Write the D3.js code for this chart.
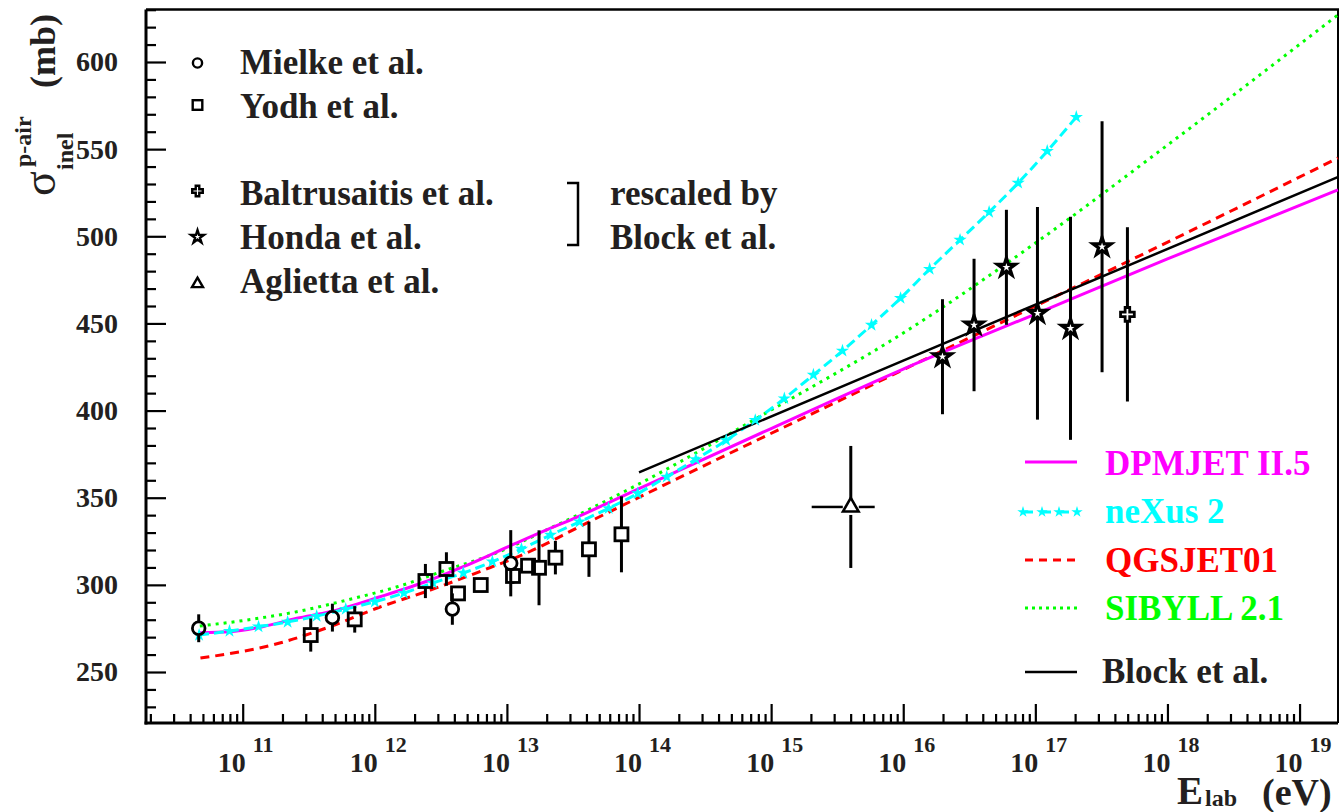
<!DOCTYPE html>
<html><head><meta charset="utf-8">
<script src="https://cdn.jsdelivr.net/npm/d3@7"></script>
<style>
body{margin:0;background:#fff}
svg text{font-family:"Liberation Serif","Times New Roman",serif;font-weight:bold;fill:#231f20}
</style>
</head><body>
<svg id="c" width="1341" height="812"></svg>
<script>
// ---------- DATA (log10 of E_lab in eV, sigma in mb) ----------
const xTickExponents = [11,12,13,14,15,16,17,18,19];
const yTickValues = [250,300,350,400,450,500,550,600];

const dpmjetLogE  = [10.675,10.90,11.15,11.41,11.66,12.04,12.42,12.67,13.04,13.30,13.48,14.0,15.0,16.0,17.0,18.0,19.29];
const dpmjetSigma = [272.5,273.1,276.0,280.8,284.6,293.2,302.8,310.4,322.9,331.5,337.2,355.2,389.7,423.8,455.4,487.0,526.6];

const nexusLogE  = [10.67,10.90,11.12,11.34,11.56,11.78,12.00,12.22,12.44,12.67,12.89,13.11,13.33,13.55,13.77,13.99,14.21,14.43,14.66,14.88,15.10,15.32,15.54,15.76,15.98,16.20,16.43,16.65,16.87,17.09,17.31];
const nexusSigma = [271.2,273.5,276.0,278.7,282.1,286.1,290.3,295.3,301.1,306.8,313.3,320.6,328.6,336.2,343.9,352.4,362.0,372.0,382.9,394.5,406.9,420.5,434.3,449.1,464.5,481.2,497.9,513.9,530.6,548.9,568.4];

const qgsjetLogE  = [10.68,11.28,11.66,12.04,12.42,12.79,13.17,13.55,15.97,18.24,19.29];
const qgsjetSigma = [258.0,266.6,276.0,287.3,297.0,307.5,319.0,333.4,422.3,505.5,544.9];

const sibyllLogE  = [10.675,11.03,11.41,11.79,12.17,12.54,12.92,13.30,14.0,15.0,16.0,17.0,18.0,19.29];
const sibyllSigma = [276.4,279.8,284.6,291.3,298.9,308.5,318.3,331.5,357.9,400.3,444.5,496.1,552.3,627.0];

const blockLogE  = [14.0,16.0,19.29];
const blockSigma = [364.5,428.7,534.0];

const mielkeLogE  = [10.667,11.679,12.587,13.029];
const mielkeSigma = [275.1,281.2,286.1,312.4];
const mielkeErr   = [8,8,9,19];

const yodhLogE  = [11.515,11.848,12.383,12.542,12.630,12.802,13.046,13.160,13.243,13.367,13.621,13.867];
const yodhSigma = [271.2,280.2,302.2,309.1,295.1,299.9,305.1,311.0,309.8,315.6,320.4,329.0];
const yodhErr   = [9.5,7.6,9.8,9.6,4,4,4.5,3,21.5,9.6,15.8,21.8];

const hondaLogE  = [16.297,16.536,16.781,17.016,17.266,17.505];
const hondaSigma = [430.9,449.1,482.2,455.8,447.2,494.0];
const hondaErr   = [33,38,33,61,64,72];

const baltLogE  = [17.697];
const baltSigma = [455.2];
const baltErr   = [50];

const agliettaLogE   = [15.603];
const agliettaLogELo = [15.307];
const agliettaLogEHi = [15.784];
const agliettaSigma  = [344.7];
const agliettaErr    = [35];

const leftLegend  = ["Mielke et al.","Yodh et al.","Baltrusaitis et al.","Honda et al.","Aglietta et al."];
const rightLegend = ["DPMJET II.5","neXus 2","QGSJET01","SIBYLL 2.1","Block et al."];
const noteLines   = ["rescaled by","Block et al."];

// ---------- LAYOUT ----------
const L=146,R=1338,T=9.5,B=723;
const x=d3.scaleLog().domain([Math.pow(10,10.268),Math.pow(10,19.291)]).range([L,R]);
const y=d3.scaleLinear().domain([220.74,630.12]).range([B,T]);
const X=le=>x(Math.pow(10,le));
const svg=d3.select("#c");
const TXT="#231f20";

// ---------- AXES ----------
const minorX=[];
for(let n=10;n<=19;n++) for(let k=2;k<=9;k++){const v=k*Math.pow(10,n); if(v>=x.domain()[0]&&v<=x.domain()[1]) minorX.push(v);}
const majorX=xTickExponents.map(k=>Math.pow(10,k));
function styleAxis(g){g.select(".domain").remove();g.selectAll(".tick line").attr("stroke","#000").attr("stroke-width",2.2);}
svg.append("g").attr("transform",`translate(0,${B})`).call(d3.axisBottom(x).tickValues(minorX).tickSize(-9).tickFormat("")).call(styleAxis);
svg.append("g").attr("transform",`translate(0,${B})`).call(d3.axisBottom(x).tickValues(majorX).tickSize(-19).tickFormat("")).call(styleAxis);

const minorY=d3.range(230,631,10).filter(v=>v%50!==0);
svg.append("g").attr("transform",`translate(${L},0)`).call(d3.axisLeft(y).tickValues(minorY).tickSize(-10).tickFormat("")).call(styleAxis);
const gy=svg.append("g").attr("transform",`translate(${L},0)`).call(d3.axisLeft(y).tickValues(yTickValues).tickSize(-20).tickPadding(28).tickFormat(d3.format("d"))).call(styleAxis);
gy.attr("font-size",28).attr("font-family",null);
gy.selectAll("text").attr("font-size",28).attr("fill",TXT);

// x labels 10^k
xTickExponents.forEach(k=>{
  const px=X(k);
  svg.append("text").attr("x",px+3).attr("y",772).attr("text-anchor","end").attr("font-size",28).text("10");
  svg.append("text").attr("x",px+10).attr("y",752).attr("font-size",22).text(k);
});

// frame
svg.append("line").attr("x1",L).attr("y1",T).attr("x2",L).attr("y2",B+1.5).attr("stroke","#000").attr("stroke-width",3);
svg.append("line").attr("x1",L-1.5).attr("y1",B).attr("x2",R).attr("y2",B).attr("stroke","#000").attr("stroke-width",3);
svg.append("line").attr("x1",L).attr("y1",T).attr("x2",R+1).attr("y2",T).attr("stroke","#000").attr("stroke-width",2.5);
svg.append("line").attr("x1",R).attr("y1",T).attr("x2",R).attr("y2",B).attr("stroke","#000").attr("stroke-width",2);

// axis titles
const yt=svg.append("g").attr("transform","translate(55,196) rotate(-90)");
yt.append("text").attr("x",0).attr("y",0).attr("font-size",46).style("font-weight","normal").text("σ");
yt.append("text").attr("x",29).attr("y",-24).attr("font-size",24).text("p-air");
yt.append("text").attr("x",26).attr("y",18).attr("font-size",24).text("inel");
yt.append("text").attr("x",108).attr("y",0).attr("font-size",36).text("(mb)");

svg.append("text").attr("x",1177).attr("y",804).attr("font-size",39).text("E");
svg.append("text").attr("x",1205).attr("y",806).attr("font-size",24).text("lab");
svg.append("text").attr("x",1262).attr("y",805).attr("font-size",38).text("(eV)");

// ---------- CURVES ----------
const line=d3.line().x(d=>X(d[0])).y(d=>y(d[1])).curve(d3.curveMonotoneX);
const zip=(a,b)=>a.map((v,i)=>[v,b[i]]);
const curves=[
  {lx:sibyllLogE,ly:sibyllSigma,c:"#00ff00",w:3,dash:"3 5"},
  {lx:qgsjetLogE,ly:qgsjetSigma,c:"#ff0000",w:3,dash:"9 6"},
  {lx:dpmjetLogE,ly:dpmjetSigma,c:"#ff00ff",w:3,dash:null},
  {lx:nexusLogE,ly:nexusSigma,c:"#00ffff",w:3,dash:"10 5"},
  {lx:blockLogE,ly:blockSigma,c:"#000000",w:2.5,dash:null}
];
curves.forEach(cv=>{
  svg.append("path").attr("d",line(zip(cv.lx,cv.ly))).attr("fill","none")
    .attr("stroke",cv.c).attr("stroke-width",cv.w).attr("stroke-dasharray",cv.dash);
});
const starSym=(r)=>d3.symbol().type(d3.symbolStar).size(r*r/0.8908130915292852)();
svg.selectAll(".nxs").data(zip(nexusLogE,nexusSigma)).enter().append("path")
  .attr("transform",d=>`translate(${X(d[0])},${y(d[1])})`).attr("d",starSym(7)).attr("fill","#00ffff");

// ---------- DATA POINTS ----------
function vbar(px,py,top,bot,h){
  if(top<py-h) svg.append("line").attr("x1",px).attr("x2",px).attr("y1",top).attr("y2",py-h).attr("stroke","#000").attr("stroke-width",3);
  if(bot>py+h) svg.append("line").attr("x1",px).attr("x2",px).attr("y1",py+h).attr("y2",bot).attr("stroke","#000").attr("stroke-width",3);
}
// Yodh squares
yodhLogE.forEach((le,i)=>{
  const px=X(le),py=y(yodhSigma[i]);
  vbar(px,py,y(yodhSigma[i]+yodhErr[i]),y(yodhSigma[i]-yodhErr[i]),7);
  svg.append("rect").attr("x",px-6.5).attr("y",py-6.5).attr("width",13).attr("height",13).attr("fill","none").attr("stroke","#000").attr("stroke-width",2.8);
});
// Mielke circles
mielkeLogE.forEach((le,i)=>{
  const px=X(le),py=y(mielkeSigma[i]);
  vbar(px,py,y(mielkeSigma[i]+mielkeErr[i]),y(mielkeSigma[i]-mielkeErr[i]),7);
  svg.append("circle").attr("cx",px).attr("cy",py).attr("r",6.3).attr("fill","none").attr("stroke","#000").attr("stroke-width",2.8);
});
// Honda stars
hondaLogE.forEach((le,i)=>{
  const px=X(le),py=y(hondaSigma[i]);
  vbar(px,py,y(hondaSigma[i]+hondaErr[i]),y(hondaSigma[i]-hondaErr[i]),0);
  svg.append("path").attr("transform",`translate(${px},${py})`).attr("d",starSym(9.5)).attr("fill","#fff").attr("stroke","#000").attr("stroke-width",3.2);
});
// Baltrusaitis cross
baltLogE.forEach((le,i)=>{
  const px=X(le),py=y(baltSigma[i]);
  vbar(px,py,y(baltSigma[i]+baltErr[i]),y(baltSigma[i]-baltErr[i]),7);
  svg.append("path").attr("transform",`translate(${px},${py})`).attr("d",d3.symbol().type(d3.symbolCross).size(105)()).attr("fill","#fff").attr("stroke","#000").attr("stroke-width",2.8);
});
// Aglietta triangle
agliettaLogE.forEach((le,i)=>{
  const px=X(le),py=y(agliettaSigma[i]);
  vbar(px,py,y(agliettaSigma[i]+agliettaErr[i]),y(agliettaSigma[i]-agliettaErr[i]),8);
  svg.append("line").attr("x1",X(agliettaLogELo[i])).attr("x2",px-8).attr("y1",py).attr("y2",py).attr("stroke","#000").attr("stroke-width",2.5);
  svg.append("line").attr("x1",px+8).attr("x2",X(agliettaLogEHi[i])).attr("y1",py).attr("y2",py).attr("stroke","#000").attr("stroke-width",2.5);
  svg.append("path").attr("transform",`translate(${px},${py})`).attr("d",d3.symbol().type(d3.symbolTriangle).size(105)()).attr("fill","none").attr("stroke","#000").attr("stroke-width",2.6);
});

// ---------- LEFT LEGEND ----------
const llx=197.5, lTextX=240;
const lRows=[63,105,191,237,283];
const lBase=[74,118,205,249,293];
lRows.forEach((cy,i)=>{
  let m;
  if(i===0) m=svg.append("circle").attr("cx",llx).attr("cy",cy).attr("r",4.6);
  else if(i===1) m=svg.append("rect").attr("x",llx-4.8).attr("y",cy-4.8).attr("width",9.6).attr("height",9.6);
  else if(i===2) m=svg.append("path").attr("transform",`translate(${llx},${cy})`).attr("d",d3.symbol().type(d3.symbolCross).size(62)()).attr("fill","#fff");
  else if(i===3) m=svg.append("path").attr("transform",`translate(${llx},${cy})`).attr("d",starSym(6.8)).attr("fill","#fff");
  else m=svg.append("path").attr("transform",`translate(${llx},${cy+1})`).attr("d",d3.symbol().type(d3.symbolTriangle).size(52)());
  if(i<2||i===4) m.attr("fill","none");
  m.attr("stroke","#000").attr("stroke-width",2.4);
  svg.append("text").attr("x",lTextX).attr("y",lBase[i]).attr("font-size",35).text(leftLegend[i]);
});
// bracket + note
svg.append("path").attr("d","M567,183 H578 V245 H567").attr("fill","none").attr("stroke","#000").attr("stroke-width",2.5);
svg.append("text").attr("x",610).attr("y",205).attr("font-size",35).text(noteLines[0]);
svg.append("text").attr("x",610).attr("y",249).attr("font-size",35).text(noteLines[1]);

// ---------- RIGHT LEGEND ----------
const rCols=["#ff00ff","#00ffff","#ff0000","#00ff00","#000000"];
const rDash=[null,"8 10","8 6","3 4",null];
const rLineY=[462,512,560,608,672];
const rBase=[475,523,572,620,683];
const rTextX=[1105,1105,1105,1105,1102];
rightLegend.forEach((name,i)=>{
  svg.append("line").attr("x1",1025).attr("x2",1077).attr("y1",rLineY[i]).attr("y2",rLineY[i])
    .attr("stroke",rCols[i]).attr("stroke-width",i===4?2.5:3).attr("stroke-dasharray",rDash[i]);
  if(i===1){
    [1023,1042,1059,1077].forEach(sx=>svg.append("path").attr("transform",`translate(${sx},${rLineY[i]})`).attr("d",starSym(6)).attr("fill","#00ffff"));
  }
  svg.append("text").attr("x",rTextX[i]).attr("y",rBase[i]).attr("font-size",35)
    .style("fill",i===4?TXT:rCols[i]).text(name);
});
</script>
</body></html>
